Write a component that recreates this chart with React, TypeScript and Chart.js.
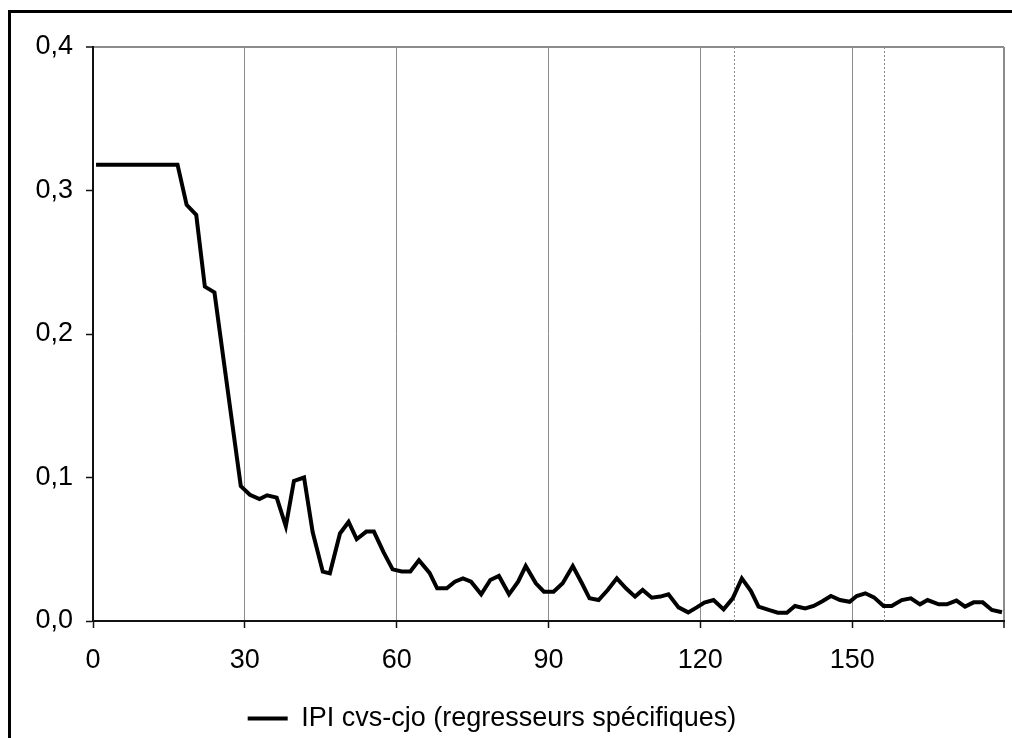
import React, { useEffect, useRef } from "react";
import { Chart, registerables } from "chart.js";

Chart.register(...registerables);

const X_VALUES = [
  0.6, 2.4, 4.2, 6.0, 7.8, 9.6, 11.3, 13.1, 14.9, 16.7,
  18.5, 20.4, 22.1, 24.0, 25.8, 27.5, 29.2, 31.0, 32.9, 34.4,
  36.3, 38.1, 39.7, 41.7, 43.4, 45.4, 46.8, 48.8, 50.5, 52.1,
  54.0, 55.5, 57.4, 59.2, 61.0, 62.7, 64.4, 66.5, 68.0, 69.9,
  71.5, 73.1, 74.7, 76.7, 78.5, 80.2, 82.2, 84.0, 85.5, 87.5,
  89.1, 91.0, 92.8, 94.8, 96.6, 98.1, 99.9, 101.7, 103.5, 105.3,
  107.1, 108.6, 110.4, 112.1, 113.7, 115.7, 117.6, 119.3, 120.8, 122.6,
  124.6, 126.4, 128.2, 130.0, 131.5, 133.5, 135.3, 137.1, 138.7, 140.7,
  142.4, 144.2, 145.8, 147.6, 149.5, 150.9, 152.6, 154.3, 156.2, 157.8,
  159.8, 161.6, 163.4, 164.9, 167.1, 168.7, 170.6, 172.3, 174.0, 175.8,
  177.6, 179.6,
];

// IPI cvs-cjo (regresseurs spécifiques)
const IPI_VALUES = [
  0.318, 0.318, 0.318, 0.318, 0.318, 0.318, 0.318, 0.318, 0.318, 0.318,
  0.290, 0.283, 0.233, 0.229, 0.182, 0.138, 0.094, 0.088, 0.085, 0.0876,
  0.086, 0.066, 0.0976, 0.100, 0.062, 0.0344, 0.0332, 0.061, 0.069, 0.057,
  0.0623, 0.0623, 0.048, 0.036, 0.0345, 0.0345, 0.0423, 0.0335, 0.0228, 0.0228,
  0.0274, 0.0297, 0.0274, 0.0186, 0.0286, 0.0314, 0.0186, 0.0274, 0.0383, 0.0263,
  0.0204, 0.0204, 0.0263, 0.0383, 0.0263, 0.0158, 0.0146, 0.0216, 0.0297, 0.0228,
  0.017, 0.0216, 0.0162, 0.017, 0.0186, 0.0095, 0.006, 0.0095, 0.0128, 0.0146,
  0.0081, 0.0158, 0.0297, 0.0209, 0.010, 0.0077, 0.0058, 0.0058, 0.0105, 0.0088,
  0.0105, 0.0139, 0.0174, 0.0146, 0.0134, 0.0174, 0.0193, 0.0165, 0.0105, 0.0105,
  0.0146, 0.0158, 0.0116, 0.0146, 0.0116, 0.0116, 0.0142, 0.010, 0.013, 0.013,
  0.0077, 0.0061,
];

const SERIES_LABEL = "IPI cvs-cjo (regresseurs spécifiques)";

// dotted vertical reference lines
const REF_LINES = [126.7, 156.2];

const X_MIN = 0;
const X_MAX = 180;
const X_STEP = 30;
const Y_MIN = 0;
const Y_MAX = 0.4;
const Y_STEP = 0.1;

const FONT = "'Liberation Sans', Arial, sans-serif";

const refLinesPlugin = {
  id: "refLines",
  beforeDatasetsDraw(chart: any) {
    const { ctx, chartArea, scales } = chart;
    const x = scales.x;
    ctx.save();
    ctx.strokeStyle = "#8a8a8a";
    ctx.lineWidth = 1;
    ctx.setLineDash([2, 2]);
    REF_LINES.forEach((v) => {
      const px = Math.round(x.getPixelForValue(v)) + 0.5;
      ctx.beginPath();
      ctx.moveTo(px, chartArea.top);
      ctx.lineTo(px, chartArea.bottom);
      ctx.stroke();
    });
    ctx.restore();
  },
};

// nudge the legend box slightly left, as in the reference
const legendShiftPlugin = {
  id: "legendShift",
  afterLayout(chart: any) {
    const l = chart.legend;
    if (l) {
      l.left -= 10;
      l.right -= 10;
    }
  },
};

export default function App() {
  const canvasRef = useRef<HTMLCanvasElement | null>(null);

  useEffect(() => {
    if (!canvasRef.current) return;
    Chart.defaults.font.family = FONT;
    Chart.defaults.color = "#000";
    const points = X_VALUES.map((x, i) => ({ x, y: IPI_VALUES[i] }));
    const chart = new Chart(canvasRef.current, {
      type: "line",
      data: {
        datasets: [
          {
            label: SERIES_LABEL,
            data: points,
            borderColor: "#000",
            backgroundColor: "#000",
            borderWidth: 4,
            pointRadius: 0,
            pointHoverRadius: 0,
            tension: 0,
            fill: false,
          },
        ],
      },
      options: {
        animation: false,
        responsive: false,
        devicePixelRatio: 1,
        layout: { padding: { top: 47, right: 8, left: 0, bottom: 0 } },
        plugins: {
          tooltip: { enabled: false },
          legend: {
            display: true,
            position: "bottom",
            labels: {
              usePointStyle: true,
              pointStyle: "line",
              pointStyleWidth: 40,
              padding: 10,
              color: "#000",
              font: { size: 27, family: FONT },
            },
          },
        },
        scales: {
          x: {
            type: "linear",
            min: X_MIN,
            max: X_MAX,
            border: { display: true, color: "#111", width: 2 },
            grid: {
              display: true,
              drawTicks: true,
              tickLength: 7,
              tickColor: "#111",
              tickWidth: 1.5,
              color: (c: any) =>
                c.tick && c.tick.value === X_MIN ? "rgba(0,0,0,0)" : "#8c8c8c",
              lineWidth: (c: any) => (c.tick && c.tick.value === X_MAX ? 2 : 1),
            },
            ticks: {
              stepSize: X_STEP,
              autoSkip: false,
              maxRotation: 0,
              padding: 16,
              color: "#000",
              font: { size: 27, family: FONT },
              callback: (v: any) => (Number(v) === X_MAX ? "" : String(v)),
            },
            afterFit: (scale: any) => {
              scale.height = 74;
              scale.paddingRight = 0;
            },
          },
          y: {
            type: "linear",
            min: Y_MIN,
            max: Y_MAX,
            border: { display: true, color: "#111", width: 2 },
            grid: {
              display: true,
              drawTicks: true,
              tickLength: 7,
              tickColor: "#111",
              tickWidth: 1.5,
              color: (c: any) =>
                c.tick && Math.abs(c.tick.value - Y_MAX) < 1e-9
                  ? "#8c8c8c"
                  : "rgba(0,0,0,0)",
              lineWidth: (c: any) =>
                c.tick && Math.abs(c.tick.value - Y_MAX) < 1e-9 ? 2 : 1,
            },
            ticks: {
              stepSize: Y_STEP,
              padding: 13,
              color: "#000",
              font: { size: 27, family: FONT },
              callback: (v: any) => Number(v).toFixed(1).replace(".", ","),
            },
            afterFit: (scale: any) => {
              scale.width = 93;
            },
          },
        },
      },
      plugins: [refLinesPlugin, legendShiftPlugin],
    });
    return () => chart.destroy();
  }, []);

  return (
    <div
      style={{
        position: "fixed",
        left: 0,
        top: 0,
        width: 1012,
        height: 738,
        overflow: "hidden",
        background: "#fff",
      }}
    >
      <div
        style={{
          position: "absolute",
          left: 8,
          top: 10,
          width: 1100,
          height: 900,
          border: "3px solid #000",
          boxSizing: "border-box",
        }}
      />
      <canvas
        ref={canvasRef}
        width={1012}
        height={742}
        style={{ position: "absolute", left: 0, top: 0, width: 1012, height: 742 }}
      />
    </div>
  );
}
